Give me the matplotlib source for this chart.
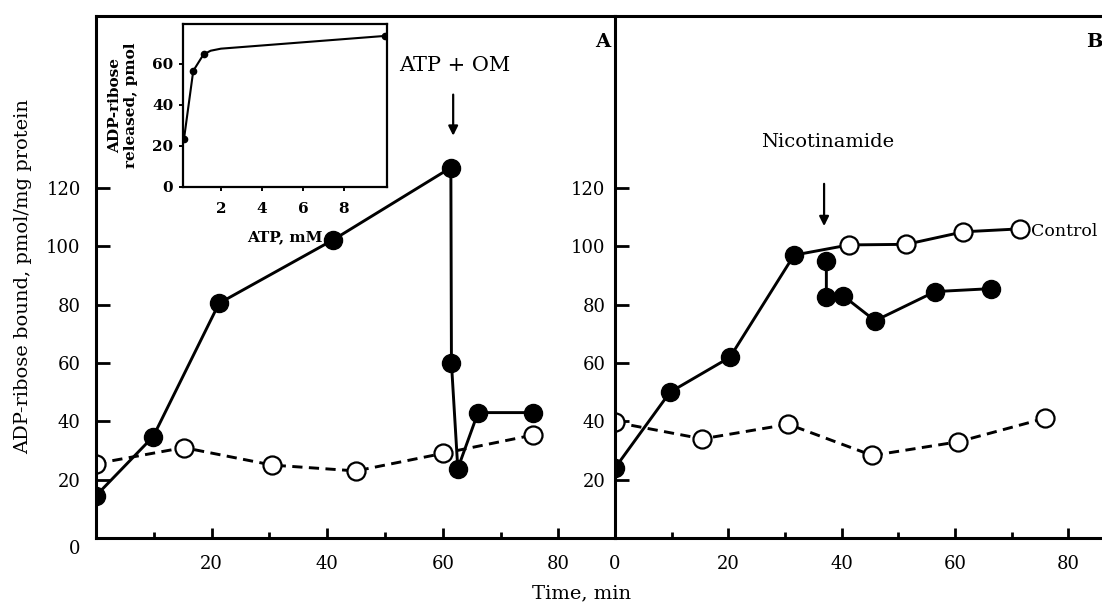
#!/usr/bin/env python3
"""ADP-ribose bound vs time, panels A and B with ATP inset."""

import matplotlib

matplotlib.use("Agg")
import matplotlib.pyplot as plt
import matplotlib.transforms as mtransforms

# panel A
a_fill_t = [0, 9.9, 21.3, 41.0, 61.4, 61.5, 62.6, 66.1, 75.6]
a_fill_y = [14.5, 34.8, 80.5, 102.2, 127.0, 60.0, 23.8, 43.0, 43.0]
a_open_t = [0, 15.2, 30.5, 45.0, 60.0, 75.6]
a_open_y = [25.5, 31.0, 25.0, 23.0, 29.0, 35.3]

# panel B
b_fill_t = [0, 9.7, 20.3, 31.6]
b_fill_y = [24.0, 50.0, 62.0, 97.0]
b_ctrl_t = [41.3, 51.4, 61.5, 71.4]
b_ctrl_y = [100.5, 100.7, 105.0, 106.0]
b_nic_t = [37.3, 37.3, 40.3, 45.9, 56.5, 66.3]
b_nic_y = [95.0, 82.5, 83.0, 74.5, 84.5, 85.5]
b_open_t = [0, 15.4, 30.6, 45.4, 60.6, 75.8]
b_open_y = [39.7, 34.0, 39.0, 28.3, 33.0, 41.0]

# inset
atp_mm = [0.2, 0.65, 1.15, 10.0]
released = [23.5, 56.5, 64.5, 73.5]
curve_x = [0.2, 0.65, 1.15, 1.5, 2.0, 10.0]
curve_y = [23.5, 56.5, 64.5, 66.3, 67.3, 73.5]

y_ticks = [0, 20, 40, 60, 80, 100, 120]

plt.rcParams["font.family"] = ["DejaVu Serif"]

W, H = 1102, 605
fig = plt.figure(figsize=(W / 100, H / 100), dpi=100)

x0_a, x0_b, ybot, ytop = 96, 615, 538, 16
ax_a = fig.add_axes([x0_a / W, (H - ybot) / H, (x0_b - x0_a) / W, (ybot - ytop) / H])
ax_b = fig.add_axes([x0_b / W, (H - ybot) / H, (W - x0_b + 2) / W, (ybot - ytop) / H])

lw = 2.1
fill_kw = dict(marker="o", markersize=13, markerfacecolor="black", markeredgecolor="black", color="black", lw=lw)
open_kw = dict(marker="o", markersize=13, markerfacecolor="white", markeredgecolor="black",
               markeredgewidth=1.6, color="black", lw=lw)
dash = (0, (3.5, 2.2))

for ax in (ax_a, ax_b):
    ax.set_ylim(0, 179)
    ax.spines["right"].set_visible(False)
    for s in ("left", "bottom", "top"):
        ax.spines[s].set_linewidth(2.2)
    ax.tick_params(axis="both", which="both", direction="in", width=2, labelsize=13)
    ax.tick_params(axis="x", which="major", length=7, pad=12)
    ax.tick_params(axis="x", which="minor", length=4)
    ax.tick_params(axis="y", which="major", length=10)
    ax.set_xticks([10, 30, 50, 70], minor=True)
    ax.tick_params(right=False, top=False)

ax_a.set_xlim(0, 89.8)
ax_b.set_xlim(0, 86.3)

# panel A
ax_a.plot(a_open_t, a_open_y, linestyle=dash, **open_kw)
ax_a.plot(a_fill_t, a_fill_y, **fill_kw)
ax_a.set_xticks([20, 40, 60, 80])
ax_a.set_yticks(y_ticks)
ax_a.tick_params(axis="y", pad=11)
zero_lbl = ax_a.get_yticklabels()[0]
zero_lbl.set_transform(zero_lbl.get_transform() + mtransforms.ScaledTranslation(0, -6.5 / 72, fig.dpi_scale_trans))
ax_a.annotate("", xy=(61.8, 137), xytext=(61.8, 153),
              arrowprops=dict(arrowstyle="-|>", color="black", lw=1.6, mutation_scale=14))
ax_a.text(62, 162, "ATP + OM", ha="center", va="center", fontsize=15)
ax_a.text(87.7, 170, "A", ha="center", va="center", fontsize=14, fontweight="bold")
ax_a.set_ylabel("ADP-ribose bound, pmol/mg protein", fontsize=14, labelpad=10)

# panel B
ax_b.plot(b_open_t, b_open_y, linestyle=dash, **open_kw)
ax_b.plot(b_fill_t + b_ctrl_t, b_fill_y + b_ctrl_y, color="black", lw=lw, zorder=2)
ax_b.plot(b_fill_t, b_fill_y, linestyle="none", marker="o", markersize=13, color="black", zorder=3)
ax_b.plot(b_ctrl_t, b_ctrl_y, linestyle="none", marker="o", markersize=13, markerfacecolor="white",
          markeredgecolor="black", markeredgewidth=1.6, zorder=3)
ax_b.plot(b_nic_t, b_nic_y, **fill_kw)
ax_b.set_xticks([0, 20, 40, 60, 80])
ax_b.set_yticks(y_ticks[1:])
ax_b.tick_params(axis="y", pad=7)
ax_b.annotate("", xy=(36.9, 106), xytext=(36.9, 122.4),
              arrowprops=dict(arrowstyle="-|>", color="black", lw=1.6, mutation_scale=14))
ax_b.text(37.5, 135.8, "Nicotinamide", ha="center", va="center", fontsize=14)
ax_b.text(73.4, 105, "Control", ha="left", va="center", fontsize=12.5)
ax_b.text(86.1, 170, "B", ha="right", va="center", fontsize=14, fontweight="bold")

fig.text(582 / W, 1 - 593 / H, "Time, min", ha="center", va="center", fontsize=14)

# inset
ins = fig.add_axes([183 / W, (H - 187) / H, 204 / W, 163 / H])
ins.plot(curve_x, curve_y, color="black", lw=1.5)
ins.plot(atp_mm, released, linestyle="none", marker="o", markersize=4.5, color="black")
ins.set_xlim(0.15, 10.1)
ins.set_ylim(0, 79.3)
ins.set_xticks([2, 4, 6, 8])
ins.set_yticks([0, 20, 40, 60])
for s in ins.spines.values():
    s.set_linewidth(1.6)
ins.tick_params(direction="out", length=3, width=1.4, labelsize=11, pad=4)
ins.tick_params(axis="x", pad=8)
for lbl in ins.get_xticklabels() + ins.get_yticklabels():
    lbl.set_fontweight("bold")
ins.set_xlabel("ATP, mM", fontsize=11, fontweight="bold", labelpad=10)
ins.set_ylabel("ADP-ribose\nreleased, pmol", fontsize=11, fontweight="bold", labelpad=10)

fig.savefig("out.png", dpi=100)
